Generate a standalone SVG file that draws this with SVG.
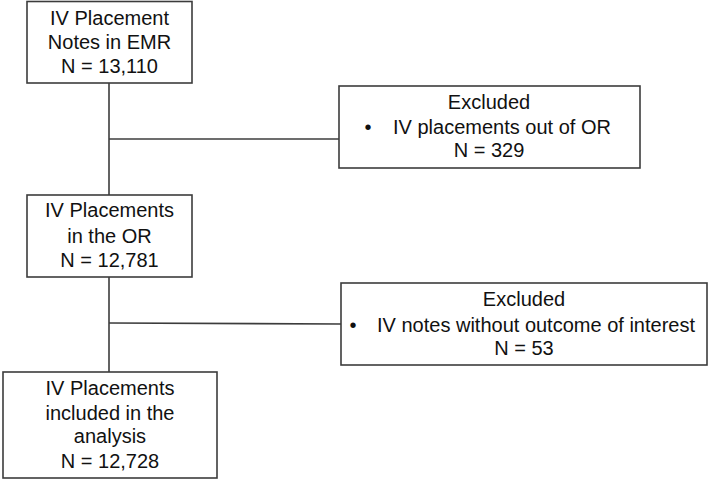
<svg xmlns="http://www.w3.org/2000/svg" width="709" height="482" viewBox="0 0 709 482">
<style>
.box{fill:#fff;stroke:#3c3c3c;stroke-width:1.6}
.ln{fill:none;stroke:#3c3c3c;stroke-width:1.6}
text{font-family:"Liberation Sans",Arial,sans-serif;font-size:20px;fill:#111;text-anchor:middle}
</style>
<rect width="709" height="482" fill="#fff"/>
<g id="connectors">
<line class="ln" x1="109" y1="83" x2="109" y2="195"/>
<line class="ln" x1="109" y1="139" x2="339" y2="139"/>
<line class="ln" x1="109" y1="277" x2="109" y2="372"/>
<line class="ln" x1="109" y1="323" x2="341" y2="324"/>
</g>
<g id="n1">
<rect class="box" x="27" y="1.5" width="165" height="81.5"/>
<text x="109.5" y="25">IV Placement</text>
<text x="109.5" y="49">Notes in EMR</text>
<text x="109.5" y="73">N = 13,110</text>
</g>
<g id="ex1">
<rect class="box" x="339" y="86" width="301" height="82"/>
<text x="489" y="109">Excluded</text>
<text x="368" y="134">•</text>
<text x="502" y="134">IV placements out of OR</text>
<text x="489" y="157">N = 329</text>
</g>
<g id="n2">
<rect class="box" x="27" y="195" width="165" height="82"/>
<text x="109.5" y="217">IV Placements</text>
<text x="109.5" y="243">in the OR</text>
<text x="109.5" y="267">N = 12,781</text>
</g>
<g id="ex2">
<rect class="box" x="341" y="283" width="366" height="82"/>
<text x="524" y="306">Excluded</text>
<text x="353" y="332">•</text>
<text x="536" y="332">IV notes without outcome of interest</text>
<text x="524" y="355">N = 53</text>
</g>
<g id="n3">
<rect class="box" x="3" y="372" width="214" height="106"/>
<text x="110" y="395">IV Placements</text>
<text x="110" y="420">included in the</text>
<text x="110" y="443">analysis</text>
<text x="110" y="468">N = 12,728</text>
</g>
</svg>
